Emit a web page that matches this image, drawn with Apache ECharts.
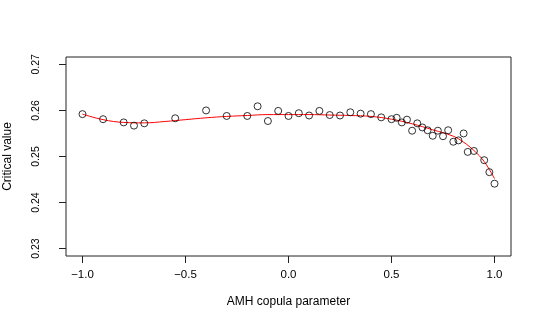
<!DOCTYPE html>
<html>
<head>
<meta charset="utf-8">
<script src="https://cdn.jsdelivr.net/npm/echarts@6/dist/echarts.min.js"></script>
<style>
  html, body { margin: 0; padding: 0; background: #fff; }
  #chart { width: 545px; height: 327px; }
</style>
</head>
<body>
<div id="chart"></div>
<script>
// simulated critical values (circles)
const pointX = [-1, -0.9, -0.8, -0.75, -0.7, -0.55, -0.4, -0.3, -0.2, -0.15, -0.1, -0.05, 0, 0.05, 0.1, 0.15, 0.2, 0.25, 0.3, 0.35, 0.4, 0.45, 0.5, 0.525, 0.55, 0.575, 0.6, 0.625, 0.65, 0.675, 0.7, 0.725, 0.75, 0.775, 0.8, 0.825, 0.85, 0.87, 0.9, 0.95, 0.975, 1.0];
const pointY = [0.2592, 0.2581, 0.2574, 0.2567, 0.2572, 0.2583, 0.2600, 0.2588, 0.2588, 0.2609, 0.2577, 0.2599, 0.2588, 0.2594, 0.2589, 0.2599, 0.2590, 0.2589, 0.2596, 0.2593, 0.2592, 0.2585, 0.2581, 0.2584, 0.2574, 0.2580, 0.2556, 0.2572, 0.2563, 0.2557, 0.2545, 0.2556, 0.2544, 0.2557, 0.2532, 0.2535, 0.2550, 0.2510, 0.2512, 0.2492, 0.2466, 0.2441];

// fitted curve (red line)
const fitX = [-1, -0.9, -0.8, -0.7, -0.6, -0.5, -0.4, -0.3, -0.2, -0.1, 0, 0.1, 0.2, 0.3, 0.4, 0.5, 0.6, 0.7, 0.8, 0.85, 0.9, 0.95, 1];
const fitY = [0.2592, 0.2580, 0.2574, 0.2573, 0.2576, 0.2580, 0.2584, 0.2587, 0.2589, 0.2591, 0.2591, 0.2591, 0.2590, 0.2589, 0.2587, 0.2581, 0.2571, 0.2558, 0.2544, 0.2531, 0.2513, 0.2489, 0.2452];

const xTicks = [-1, -0.5, 0, 0.5, 1];
const yTicks = [0.23, 0.24, 0.25, 0.26, 0.27];

const font = 'Liberation Sans';

const option = {
  animation: false,
  grid: {
    left: 66, right: 34, top: 57, bottom: 71,
    outerBoundsMode: 'none',
    show: true,
    borderColor: '#222',
    borderWidth: 1
  },
  xAxis: {
    type: 'value',
    min: -1.08,
    max: 1.08,
    name: 'AMH copula parameter',
    nameLocation: 'middle',
    nameGap: 40,
    nameTextStyle: { fontFamily: font, fontSize: 12, color: '#000' },
    axisLine: { show: false, onZero: false },
    splitLine: { show: false },
    axisTick: { show: true, inside: false, length: 7, customValues: xTicks, lineStyle: { color: '#222' } },
    axisLabel: {
      customValues: xTicks,
      margin: 13,
      fontFamily: font,
      fontSize: 11.5,
      color: '#000',
      formatter: v => v.toFixed(1).replace('-', '\u2212')
    }
  },
  yAxis: {
    type: 'value',
    min: 0.2284,
    max: 0.2716,
    name: 'Critical value',
    nameLocation: 'middle',
    nameRotate: 90,
    nameGap: 52,
    nameTextStyle: { fontFamily: font, fontSize: 12, color: '#000' },
    axisLine: { show: false, onZero: false },
    splitLine: { show: false },
    axisTick: { show: true, inside: false, length: 7, customValues: yTicks, lineStyle: { color: '#222' } },
    axisLabel: {
      customValues: yTicks,
      rotate: 90,
      margin: 24,
      fontFamily: font,
      fontSize: 10.5,
      color: '#000',
      formatter: v => v.toFixed(2)
    }
  },
  series: [
    {
      type: 'line',
      data: fitX.map((x, i) => [x, fitY[i]]),
      smooth: 0.4,
      symbol: 'none',
      lineStyle: { color: '#ff0000', width: 1 },
      silent: true,
      z: 1
    },
    {
      type: 'scatter',
      data: pointX.map((x, i) => [x, pointY[i]]),
      symbol: 'circle',
      symbolSize: 7,
      itemStyle: { color: 'rgba(0,0,0,0)', borderColor: '#000', borderWidth: 1 },
      silent: true,
      z: 2
    }
  ]
};

const myChart = echarts.init(document.getElementById('chart'));
myChart.setOption(option);
</script>
</body>
</html>
